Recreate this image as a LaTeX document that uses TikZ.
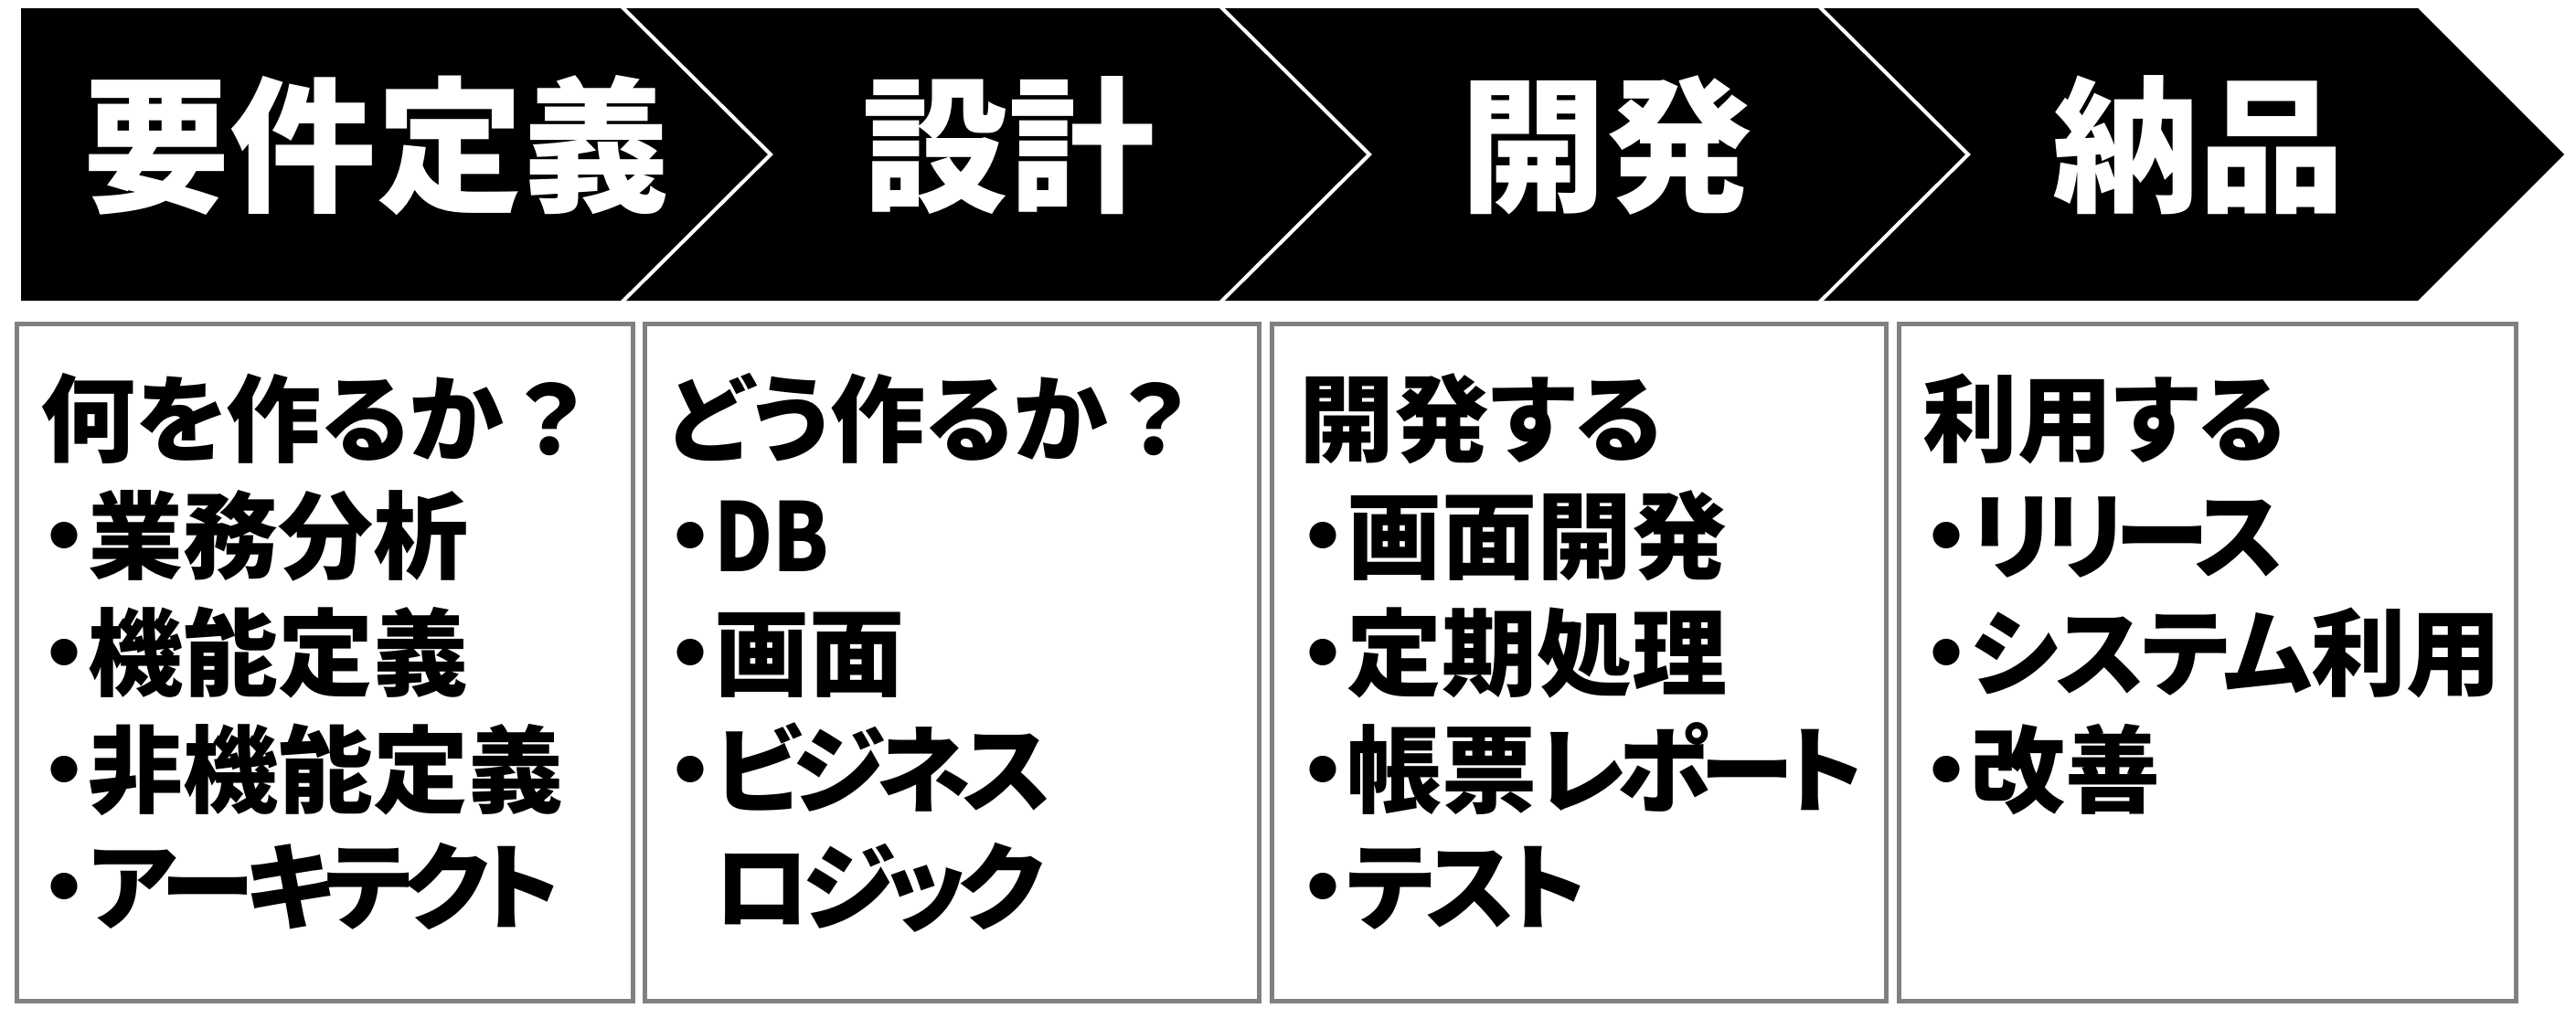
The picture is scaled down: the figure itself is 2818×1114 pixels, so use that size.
\documentclass[tikz,border=0pt]{standalone}
\usepackage{fontspec}
\usepackage{graphicx}
\newfontfamily\jp{Noto Sans CJK JP}[RawFeature=+palt]
\newcommand\kn[1]{{\addfontfeature{LetterSpace=-9}#1}}
\newcommand\knl[1]{{\addfontfeature{LetterSpace=-3}#1}}
\newcommand\fw[1]{{\addfontfeature{RawFeature=-palt}#1}}
\definecolor{boxgray}{HTML}{808080}
\tikzset{
  bar/.style={fill=black, draw=none},
  sep/.style={draw=white, line width=4bp, line join=miter},
  head/.style={anchor=base, inner sep=0, text=white, font=\jp\bfseries\fontsize{160bp}{160bp}\selectfont},
  card/.style={draw=boxgray, line width=5bp, fill=white},
  line/.style={anchor=base west, inner sep=0, font=\jp\bfseries\fontsize{104bp}{128bp}\selectfont}
}
\begin{document}
\begin{tikzpicture}[x=1bp,y=-1bp]
\useasboundingbox (0,0) rectangle (2818,1114);
% chevron bar
\fill[bar] (23,9) -- (2645,9) -- (2805,169) -- (2645,329) -- (23,329) -- cycle;
\foreach \sx in {680,1335,1990} {
  \draw[sep] (\sx,7) -- (\sx+163,169) -- (\sx,331);
}
\node[head] (h1) at (412,219) {要件定義};
\node[head] (h2) at (1103,219) {設計};
\node[head] (h3) at (1757,219) {開発};
\node[head] (h4) at (2405,219) {納品};
% boxes
\draw[card] (18,354) rectangle (692,1095);
\draw[card] (705,354) rectangle (1377,1095);
\draw[card] (1391,354) rectangle (2063,1095);
\draw[card] (2077,354) rectangle (2752,1095);
% box 1
\node[line] (a0) at (44,497) {何を作るか\fw{？}};
\node[line] (a1) at (44,625) {・業務分析};
\node[line] (a2) at (44,753) {・機能定義};
\node[line] (a3) at (44,881) {・非機能定義};
\node[line] (a4) at (44,1009) {・\kn{アーキテクト}};
% box 2
\node[line] (b0) at (729,497) {どう作るか\fw{？}};
\node[line] (b1) at (729,625) {・\scalebox{0.85}[1]{DB}};
\node[line] (b2) at (729,753) {・画面};
\node[line] (b3) at (729,881) {・\kn{ビジネス}};
\node[line] (b4) at (729,1009) {\phantom{・}\kn{ロジック}};
% box 3
\node[line] (c0) at (1421,497) {開発する};
\node[line] (c1) at (1421,625) {・画面開発};
\node[line] (c2) at (1421,753) {・定期処理};
\node[line] (c3) at (1421,881) {・帳票\kn{レポート}};
\node[line] (c4) at (1421,1009) {・\kn{テスト}};
% box 4
\node[line] (d0) at (2103,497) {利用する};
\node[line] (d1) at (2103,625) {・\kn{リリース}};
\node[line] (d2) at (2103,753) {・\knl{システム}利用};
\node[line] (d3) at (2103,881) {・改善};
\end{tikzpicture}
\end{document}
